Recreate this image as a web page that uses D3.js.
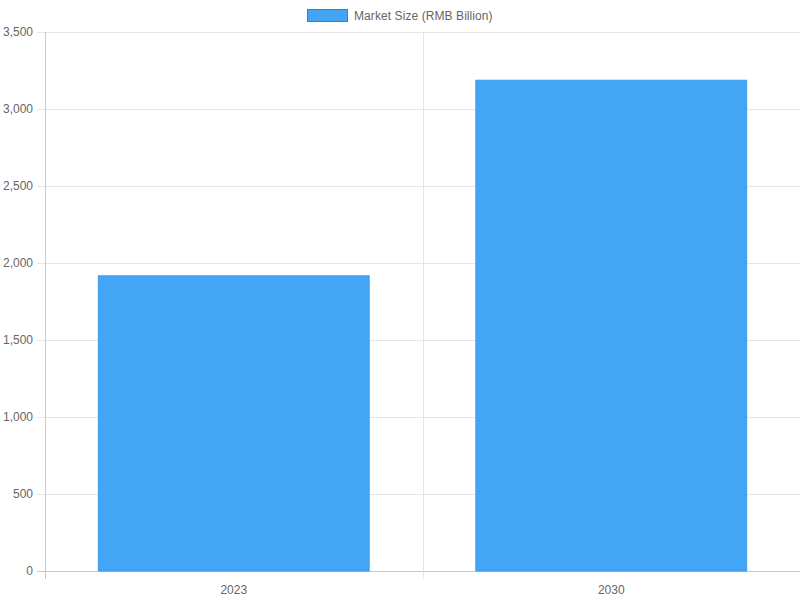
<!DOCTYPE html>
<html lang="en">

<head>
    <script src='https://d3js.org/d3.v7.min.js'></script>
    <style>
        body { margin: 0; background: #fff; }
        text { font-family: "Liberation Sans", Arial, sans-serif; }
    </style>
</head>

<body>
</body>

<script>

    // chart data
    const categories = ['2023', '2030'];
    const marketSize = [1920, 3190];
    const yTicks = [0, 500, 1000, 1500, 2000, 2500, 3000, 3500];
    const seriesName = 'Market Size (RMB Billion)';

    const width = 800;
    const height = 600;
    const margin = { top: 32, right: 0, bottom: 29, left: 45 };

    const svg = d3.select("body")
                    .append("svg")
                    .attr("width", width)
                    .attr("height", height);

    var x = d3.scaleBand()
                .domain(categories)
                .range([margin.left, width - margin.right]);

    var y = d3.scaleLinear()
                .domain([0, 3500])
                .range([height - margin.bottom, margin.top]);

    // horizontal grid lines, with tick stubs to the left
    svg.append("g")
        .selectAll("line")
        .data(yTicks)
        .enter()
        .append("line")
        .attr("x1", margin.left - 8)
        .attr("x2", width)
        .attr("y1", d => Math.round(y(d)) + 0.5)
        .attr("y2", d => Math.round(y(d)) + 0.5)
        .attr("stroke", d => d === 0 ? "#c8c8c8" : "#e5e5e5")
        .attr("stroke-width", 1);

    // vertical grid lines at category boundaries
    const xBounds = [margin.left, x('2030')];
    svg.append("g")
        .selectAll("line")
        .data(xBounds)
        .enter()
        .append("line")
        .attr("x1", d => Math.round(d) + 0.5)
        .attr("x2", d => Math.round(d) + 0.5)
        .attr("y1", margin.top)
        .attr("y2", height - margin.bottom + 8)
        .attr("stroke", (d, i) => i === 0 ? "#c8c8c8" : "#e5e5e5")
        .attr("stroke-width", 1);

    // y tick labels
    svg.append("g")
        .selectAll("text")
        .data(yTicks)
        .enter()
        .append("text")
        .attr("x", margin.left - 12)
        .attr("y", d => y(d))
        .attr("dy", "0.35em")
        .style("text-anchor", "end")
        .style("font-size", "12px")
        .attr("fill", "#666")
        .text(d => d3.format(",")(d));

    // x tick labels
    svg.append("g")
        .selectAll("text")
        .data(categories)
        .enter()
        .append("text")
        .attr("x", d => x(d) + x.bandwidth() / 2)
        .attr("y", height - margin.bottom + 23)
        .style("text-anchor", "middle")
        .style("font-size", "12px")
        .attr("fill", "#666")
        .text(d => d);

    // bars: 80% category, 90% bar
    const barWidth = x.bandwidth() * 0.72;
    svg.append("g")
        .selectAll("rect")
        .data(marketSize)
        .enter()
        .append("rect")
        .attr("x", (d, i) => x(categories[i]) + (x.bandwidth() - barWidth) / 2 + 0.5)
        .attr("y", d => y(d) + 0.5)
        .attr("width", barWidth - 1)
        .attr("height", d => y(0) - y(d) - 0.5)
        .attr("fill", "#42a5f5")
        .attr("stroke", "#3d9ae8")
        .attr("stroke-width", 1);

    // legend
    const legend = svg.append("g");
    legend.append("rect")
        .attr("x", 307.5)
        .attr("y", 9.5)
        .attr("width", 40)
        .attr("height", 12)
        .attr("fill", "#42a5f5")
        .attr("stroke", "#1e88e5")
        .attr("stroke-width", 1);
    legend.append("text")
        .attr("x", 354)
        .attr("y", 16)
        .attr("dy", "0.35em")
        .style("font-size", "12px")
        .style("letter-spacing", "0.08px")
        .attr("fill", "#666")
        .text(seriesName);

</script>

</html>
